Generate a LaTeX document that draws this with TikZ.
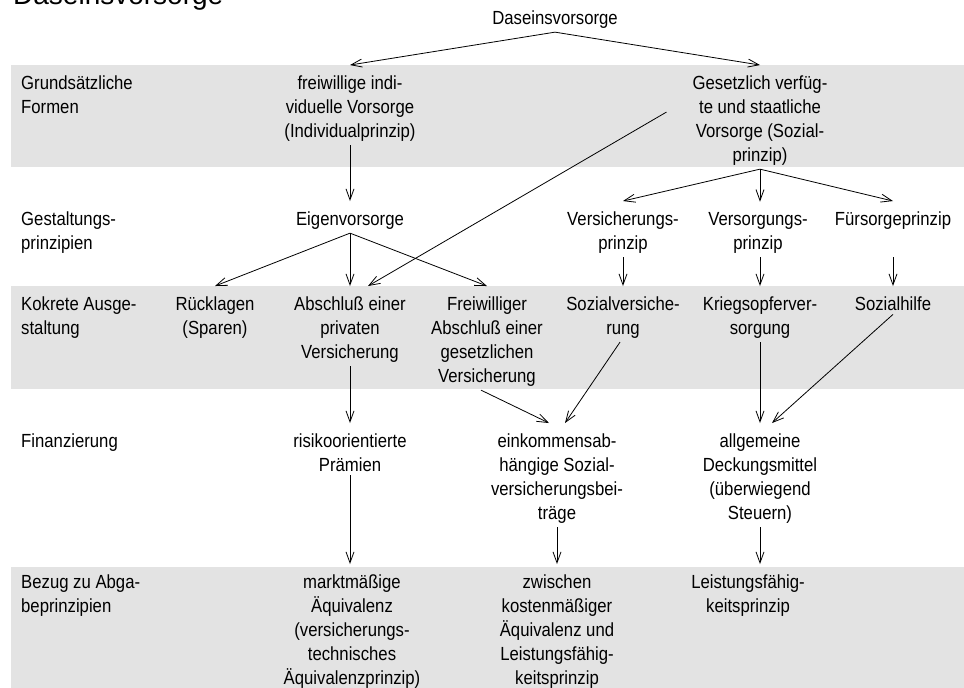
\documentclass[tikz,border=0pt]{standalone}
\usepackage{fontspec}
\setmainfont{Liberation Sans}
\newfontfamily\cond[FakeStretch=0.88]{Liberation Sans}
\usetikzlibrary{arrows.meta}
\definecolor{band}{HTML}{E3E3E3}
\begin{document}
\begin{tikzpicture}[x=1pt,y=-1pt,
  t/.style={anchor=base, align=center, inner xsep=1pt, inner ysep=4pt, font=\cond\fontsize{19}{24}\selectfont},
  lt/.style={t, anchor=base west, align=left},
  arr/.style={-{Straight Barb[length=11pt,width=8pt]}, line width=0.8pt},
  bandfill/.style={fill=band}
]
\useasboundingbox (0,0) rectangle (964,688);
\fill[bandfill] (11,65) rectangle (964,167);
\fill[bandfill] (11,286) rectangle (964,389);
\fill[bandfill] (11,567) rectangle (964,688);

\node[anchor=base west, inner sep=0, font=\fontsize{28}{30}\selectfont] (title) at (13,5) {Daseinsvorsorge};

% base anchor = baseline of the last line
\node[t] (dv) at (555,24) {Daseinsvorsorge};
\node[lt] (l1) at (20,113) {Grundsätzliche\\Formen};
\node[t] (fi) at (350,137) {freiwillige indi-\\viduelle Vorsorge\\(Individualprinzip)};
\node[t] (ge) at (760,161) {Gesetzlich verfüg-\\te und staatliche\\Vorsorge (Sozial-\\prinzip)};
\node[lt] (l2) at (20,249) {Gestaltungs-\\prinzipien};
\node[t] (ei) at (350,225) {Eigenvorsorge};
\node[t] (vp) at (623,249) {Versicherungs-\\prinzip};
\node[t] (vo) at (758,249) {Versorgungs-\\prinzip};
\node[t] (fp) at (893,225) {Fürsorgeprinzip};
\node[lt] (l3) at (20,334) {Kokrete Ausge-\\staltung};
\node[t] (rs) at (215,334) {Rücklagen\\(Sparen)};
\node[t] (ap) at (350,358) {Abschluß einer\\privaten\\Versicherung};
\node[t] (fa) at (487,382) {Freiwilliger\\Abschluß einer\\gesetzlichen\\Versicherung};
\node[t] (sv) at (623,334) {Sozialversiche-\\rung};
\node[t] (kv) at (760,334) {Kriegsopferver-\\sorgung};
\node[t] (sh) at (893,310) {Sozialhilfe};
\node[lt] (l4) at (20,447) {Finanzierung};
\node[t] (rp) at (350,471) {risikoorientierte\\Prämien};
\node[t] (ek) at (557,519) {einkommensab-\\hängige Sozial-\\versicherungsbei-\\träge};
\node[t] (ad) at (760,519) {allgemeine\\Deckungsmittel\\(überwiegend\\Steuern)};
\node[lt] (l5) at (20,612) {Bezug zu Abga-\\beprinzipien};
\node[t] (mae) at (352,684) {marktmäßige\\Äquivalenz\\(versicherungs-\\technisches\\Äquivalenzprinzip)};
\node[t] (zk) at (557,684) {zwischen\\kostenmäßiger\\Äquivalenz und\\Leistungsfähig-\\keitsprinzip};
\node[t] (lf) at (748,612) {Leistungsfähig-\\keitsprinzip};

\draw[arr] (dv.south) -- ([yshift=6pt]fi.north);
\draw[arr] (dv.south) -- ([yshift=6pt]ge.north);
\draw[arr] (fi.south) -- ([yshift=6pt]ei.north);
\draw[arr] (ge.south) -- ([yshift=6pt]vp.north);
\draw[arr] (ge.south) -- ([xshift=2pt,yshift=6pt]vo.north);
\draw[arr] (ge.south) -- ([yshift=6pt]fp.north);
\draw[arr] ([xshift=-25pt,yshift=8pt]ge.west) -- ([xshift=18pt,yshift=6pt]ap.north);
\draw[arr] (ei.south) -- ([yshift=6pt]rs.north);
\draw[arr] (ei.south) -- ([yshift=6pt]ap.north);
\draw[arr] (ei.south) -- ([yshift=6pt]fa.north);
\draw[arr] (vp.south) -- ([yshift=6pt]sv.north);
\draw[arr] ([xshift=2pt]vo.south) -- ([yshift=6pt]kv.north);
\draw[arr] ([yshift=-24pt]fp.south) -- ([yshift=6pt]sh.north);
\draw[arr] (ap.south) -- ([yshift=6pt]rp.north);
\draw[arr] ([xshift=-6pt]fa.south) -- ([xshift=-8pt,yshift=6pt]ek.north);
\draw[arr] ([xshift=-3pt]sv.south) -- ([xshift=8pt,yshift=6pt]ek.north);
\draw[arr] (kv.south) -- ([yshift=6pt]ad.north);
\draw[arr] (sh.south) -- ([xshift=12pt,yshift=6pt]ad.north);
\draw[arr] (rp.south) -- ([xshift=-2pt,yshift=6pt]mae.north);
\draw[arr] (ek.south) -- ([yshift=6pt]zk.north);
\draw[arr] (ad.south) -- ([xshift=12pt,yshift=6pt]lf.north);
\end{tikzpicture}
\end{document}
